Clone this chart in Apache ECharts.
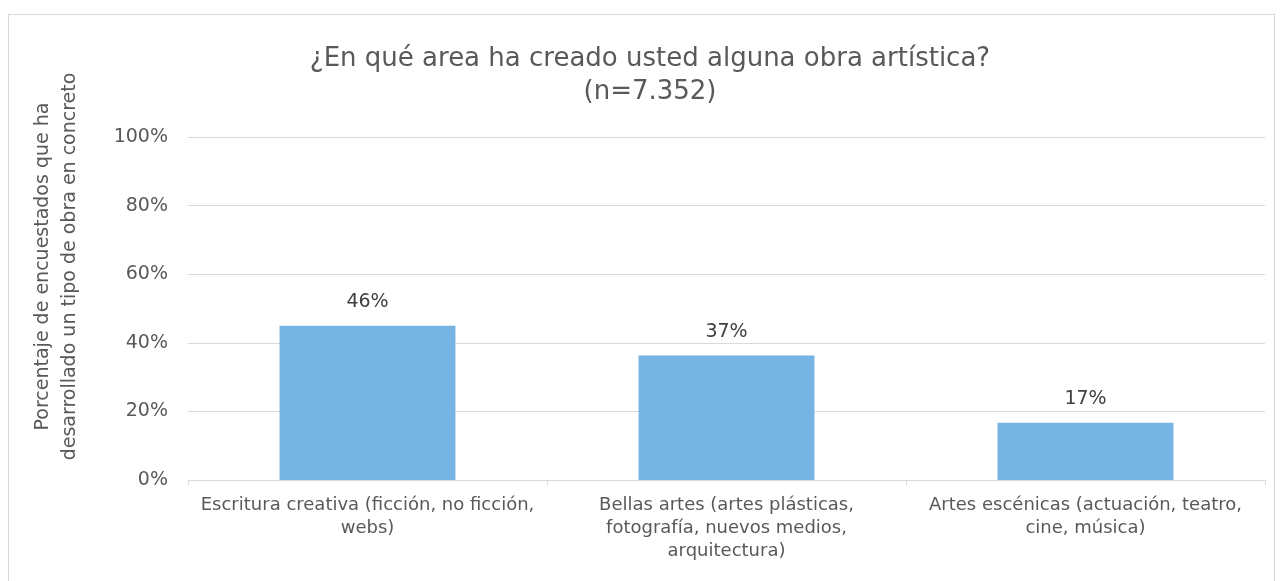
<!DOCTYPE html>
<html>
<head>
<meta charset="utf-8">
<script src="https://cdn.jsdelivr.net/npm/echarts@6/dist/echarts.min.js"></script>
<style>
  html, body { margin: 0; padding: 0; background: #fff; }
  #frame { position: absolute; left: 8px; top: 14px; width: 1267px; height: 600px; border: 1px solid #d9d9d9; box-sizing: border-box; }
  #chart { position: absolute; left: 0; top: 0; width: 1282px; height: 581px; }
</style>
</head>
<body>
<div id="frame"></div>
<div id="chart"></div>
<script>
// datos del gráfico
var categories = [
  'Escritura creativa (ficción, no ficción,\nwebs)',
  'Bellas artes (artes plásticas,\nfotografía, nuevos medios,\narquitectura)',
  'Artes escénicas (actuación, teatro,\ncine, música)'
];
var values = [45, 36.3, 16.7];
var valueLabels = ['46%', '37%', '17%'];

var fontFam = '"DejaVu Sans", sans-serif';
var myChart = echarts.init(document.getElementById('chart'));

var option = {
  animation: false,
  textStyle: { fontFamily: fontFam },
  title: {
    text: '¿En qué area ha creado usted alguna obra artística?\n(n=7.352)',
    left: 645,
    textAlign: 'center',
    top: 38,
    textStyle: {
      color: '#595959',
      fontSize: 26,
      fontWeight: 'normal',
      lineHeight: 33,
      fontFamily: fontFam
    }
  },
  grid: {
    left: 188,
    right: 17,
    top: 137,
    bottom: 101
  },
  xAxis: {
    type: 'category',
    data: categories,
    axisLine: { lineStyle: { color: '#d9d9d9', width: 1 } },
    axisTick: { show: true, length: 5, lineStyle: { color: '#d9d9d9' } },
    axisLabel: {
      interval: 0,
      color: '#595959',
      fontSize: 18,
      lineHeight: 23,
      margin: 14
    }
  },
  yAxis: {
    type: 'value',
    min: 0,
    max: 100,
    interval: 20,
    name: 'Porcentaje de encuestados que ha\ndesarrollado un tipo de obra en concreto',
    nameLocation: 'middle',
    nameRotate: 90,
    nameGap: 104,
    nameTextStyle: {
      color: '#595959',
      fontSize: 19,
      lineHeight: 27,
      padding: [0, 0, 0, 84]
    },
    axisLine: { show: false },
    axisTick: { show: false },
    splitLine: { lineStyle: { color: '#d9d9d9', width: 1 } },
    axisLabel: {
      color: '#595959',
      fontSize: 19,
      margin: 20,
      formatter: '{value}%'
    }
  },
  series: [
    {
      type: 'bar',
      data: values,
      barWidth: '49%',
      itemStyle: { color: '#75b4e3' },
      label: {
        show: true,
        position: 'top',
        distance: 14,
        color: '#404040',
        fontSize: 19,
        formatter: function (p) { return valueLabels[p.dataIndex]; }
      }
    }
  ]
};

myChart.setOption(option);
</script>
</body>
</html>
